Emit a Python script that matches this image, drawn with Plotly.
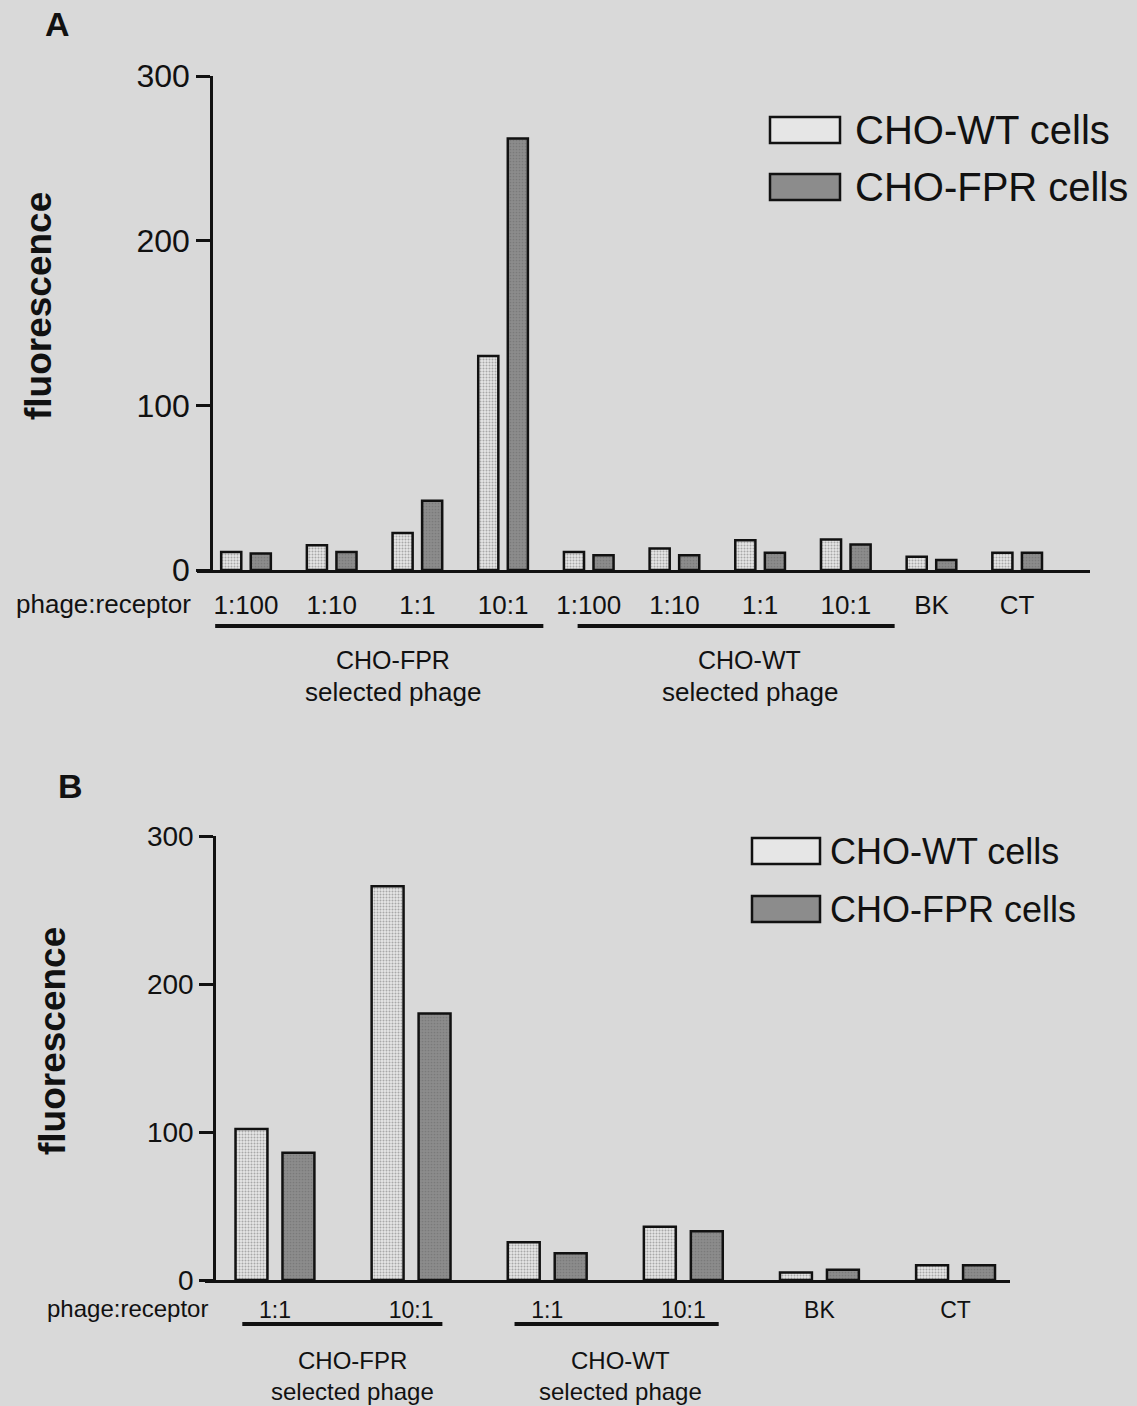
import plotly.graph_objects as go

# ---------------- data ----------------
cats_a = ["FPR 1:100", "FPR 1:10", "FPR 1:1", "FPR 10:1",
          "WT 1:100", "WT 1:10", "WT 1:1", "WT 10:1", "BK", "CT"]
labels_a = ["1:100", "1:10", "1:1", "10:1", "1:100", "1:10", "1:1", "10:1", "BK", "CT"]
wt_a = [11, 15, 22.5, 130, 11, 13, 18, 18.5, 8, 10.5]
fpr_a = [10, 11, 42, 262, 9, 9, 10.5, 15.5, 6, 10.5]

cats_b = ["FPR 1:1", "FPR 10:1", "WT 1:1", "WT 10:1", "BK", "CT"]
labels_b = ["1:1", "10:1", "1:1", "10:1", "BK", "CT"]
wt_b = [102, 266, 25.5, 36, 5, 10]
fpr_b = [86, 180, 18, 33, 7, 10]

yticks = [0, 100, 200, 300]
series_names = ["CHO-WT cells", "CHO-FPR cells"]

# ---------------- style ----------------
W, H = 1137, 1406
BG = "#d9d9d9"
WT_FILL = "#e6e6e6"
FPR_FILL = "#8c8c8c"
FONT = "Liberation Sans, Arial, sans-serif"


def px(x):
    return x / W


def py(y):
    return 1 - y / H


fig = go.Figure()

wt_pattern = dict(shape=".", size=3, solidity=0.35, fgcolor="#a8a8a8", bgcolor=WT_FILL, fillmode="replace")
fpr_pattern = dict(shape=".", size=3, solidity=0.25, fgcolor="#7a7a7a", bgcolor=FPR_FILL, fillmode="replace")

fig.add_trace(go.Bar(x=cats_a, y=wt_a, name=series_names[0], xaxis="x", yaxis="y",
                     marker=dict(color=WT_FILL, pattern=wt_pattern, line=dict(color="#111", width=2.5)),
                     showlegend=False))
fig.add_trace(go.Bar(x=cats_a, y=fpr_a, name=series_names[1], xaxis="x", yaxis="y",
                     marker=dict(color=FPR_FILL, pattern=fpr_pattern, line=dict(color="#111", width=2.5)),
                     showlegend=False))
fig.add_trace(go.Bar(x=cats_b, y=wt_b, name=series_names[0], xaxis="x2", yaxis="y2",
                     marker=dict(color=WT_FILL, pattern=wt_pattern, line=dict(color="#111", width=2.5)),
                     showlegend=False))
fig.add_trace(go.Bar(x=cats_b, y=fpr_b, name=series_names[1], xaxis="x2", yaxis="y2",
                     marker=dict(color=FPR_FILL, pattern=fpr_pattern, line=dict(color="#111", width=2.5)),
                     showlegend=False))

common_x = dict(type="category", showgrid=False, zeroline=False, showline=True,
                linecolor="#111", linewidth=2.5, ticks="", fixedrange=True, automargin=False)
common_y = dict(range=[0, 300], tickvals=yticks, showgrid=False, zeroline=False,
                showline=True, linecolor="#111", linewidth=2.5, ticks="outside",
                ticklen=14, tickwidth=2.5, tickcolor="#111", anchor="free", automargin=False)

fig.update_layout(
    width=W, height=H,
    margin=dict(l=0, r=0, t=0, b=0, pad=0, autoexpand=False),
    paper_bgcolor=BG, plot_bgcolor=BG,
    font=dict(family=FONT, color="#111"),
    barmode="group", bargap=0.31, bargroupgap=0.32,
    xaxis=dict(common_x, domain=[px(197), px(1090)], range=[-0.572, 9.85],
               tickvals=cats_a, ticktext=labels_a, anchor="y",
               tickfont=dict(size=26), ticklabelstandoff=10),
    yaxis=dict(common_y, domain=[py(570), py(76)], position=px(211),
               tickfont=dict(size=32)),
    xaxis2=dict(common_x, domain=[px(205), px(1010)], range=[-0.514, 5.40],
                tickvals=cats_b, ticktext=labels_b, anchor="y2",
                tickfont=dict(size=23), ticklabelstandoff=8),
    yaxis2=dict(common_y, domain=[py(1280), py(836)], position=px(214),
                tickfont=dict(size=28)),
)

shapes = []
ann = []


def add_text(text, x, y, size, xref="paper", xanchor="center", angle=0):
    ann.append(dict(text=text, x=x, y=py(y), xref=xref, yref="paper",
                    xanchor=xanchor, yanchor="middle", textangle=angle,
                    showarrow=False, font=dict(size=size)))


# panel letters
add_text("<b>A</b>", px(57), 24, 34)
add_text("<b>B</b>", px(70), 786, 34)

# y titles
add_text("<b>fluorescence</b>", px(39), 306, 37, angle=-90)
add_text("<b>fluorescence</b>", px(52), 1041, 37, angle=-90)

# phage:receptor
add_text("phage:receptor", px(193), 604, 26, xanchor="right")
add_text("phage:receptor", px(210), 1308, 24, xanchor="right")

# group underlines and labels (panel A)
for x0, x1 in [(-0.36, 3.47), (3.87, 7.57)]:
    shapes.append(dict(type="line", xref="x", yref="paper", x0=x0, x1=x1,
                       y0=py(626), y1=py(626), line=dict(color="#111", width=4)))
for xc, name in [(1.72, "CHO-FPR"), (5.88, "CHO-WT")]:
    add_text(name, xc, 660, 25, xref="x")
    add_text("selected phage", xc, 692, 26, xref="x")

# group underlines and labels (panel B)
for x0, x1 in [(-0.24, 1.23), (1.76, 3.26)]:
    shapes.append(dict(type="line", xref="x2", yref="paper", x0=x0, x1=x1,
                       y0=py(1324), y1=py(1324), line=dict(color="#111", width=4)))
for xc, name in [(0.57, "CHO-FPR"), (2.54, "CHO-WT")]:
    add_text(name, xc, 1360, 24, xref="x2")
    add_text("selected phage", xc, 1391, 24, xref="x2")

# custom legends
legend_specs = [
    (770, 840, [(117, 143), (174, 200)], 853, 40),
    (752, 820, [(838, 864), (896, 922)], 828, 36),
]
for lx0, lx1, rows, tx, fs in legend_specs:
    for (y0, y1), fill, name in zip(rows, [WT_FILL, FPR_FILL], series_names):
        shapes.append(dict(type="rect", xref="paper", yref="paper",
                           x0=px(lx0), x1=px(lx1), y0=py(y1), y1=py(y0),
                           fillcolor=fill, line=dict(color="#111", width=2.5)))
        add_text(name, px(tx), (y0 + y1) / 2, fs, xanchor="left")

fig.update_layout(shapes=shapes, annotations=ann)
fig.write_html("out.html")
